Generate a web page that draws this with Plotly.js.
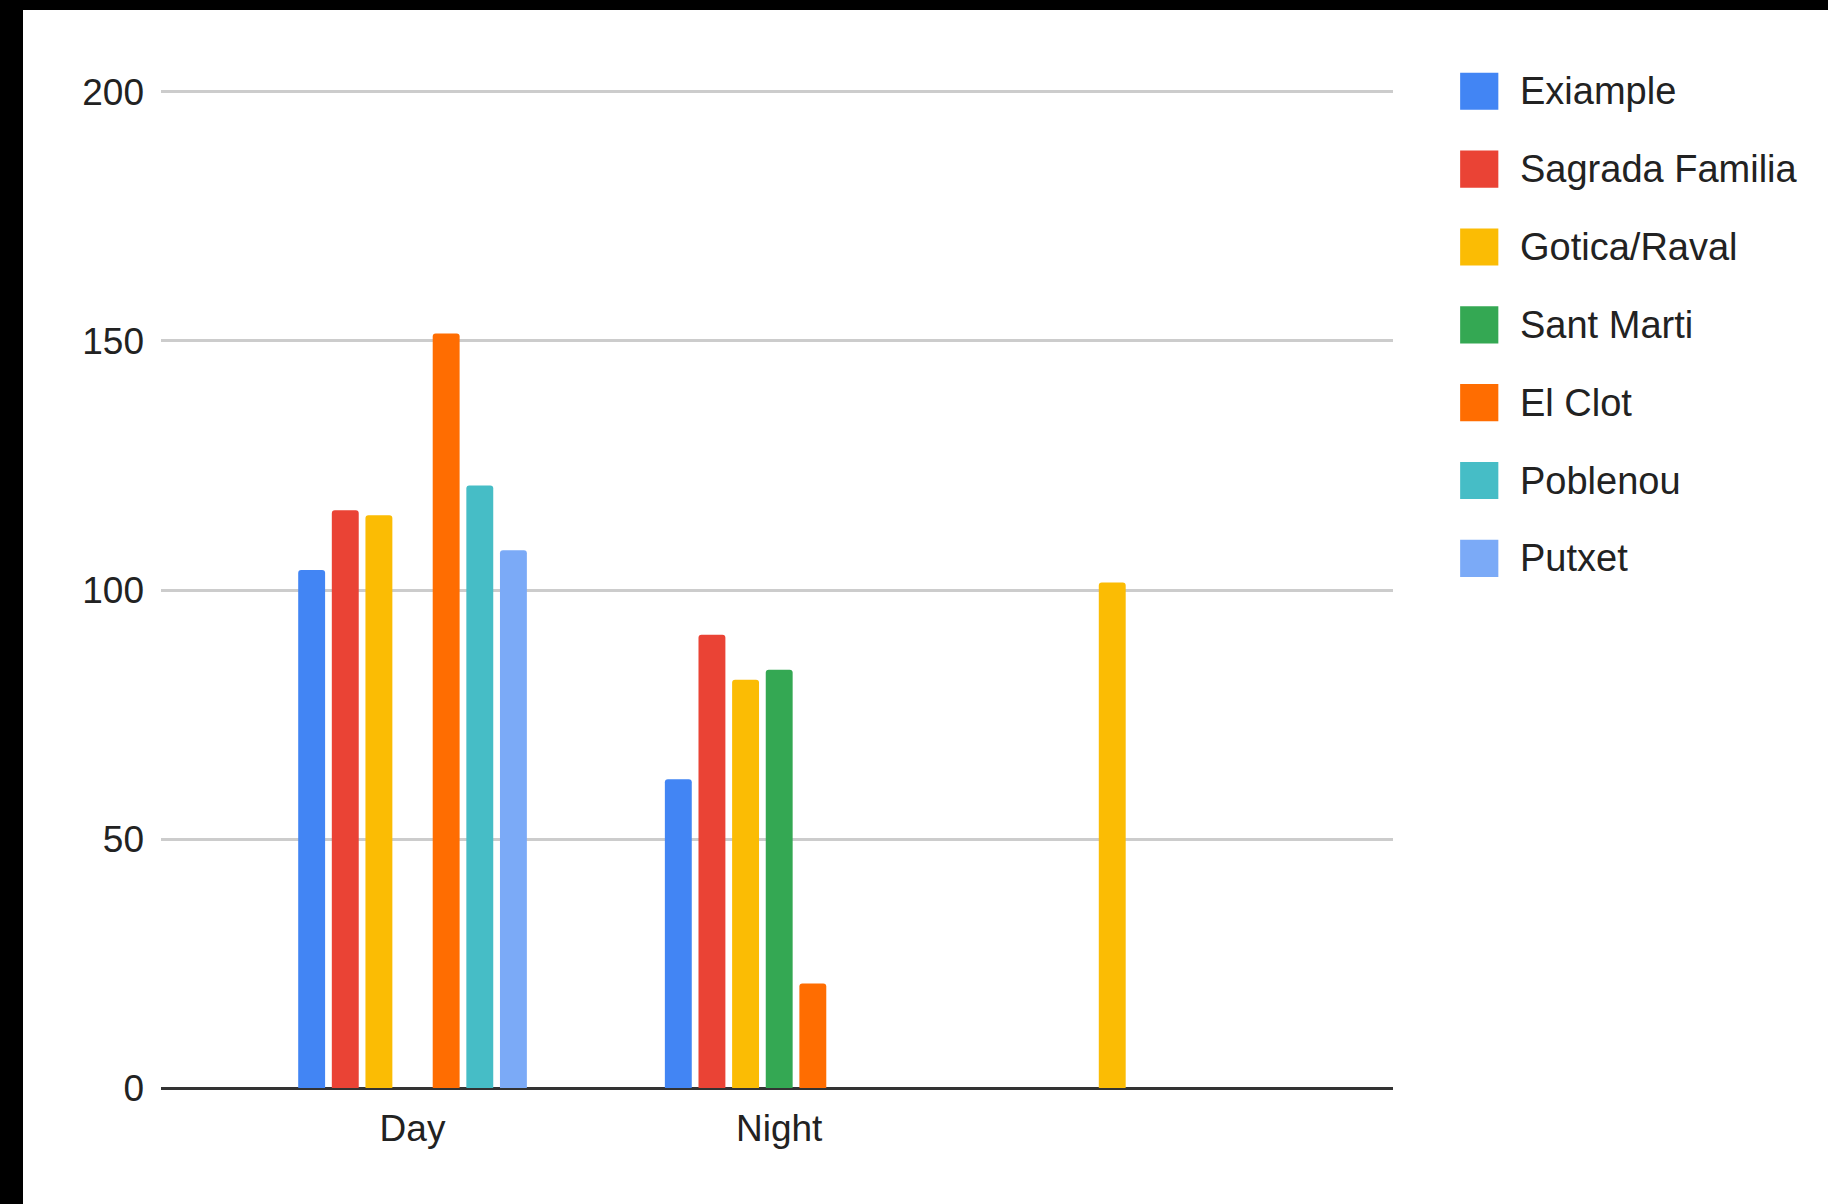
<!DOCTYPE html>
<html>
<head>
<meta charset="utf-8">
<script src="https://cdn.plot.ly/plotly-3.0.1.min.js"></script>
<style>
  html, body { margin: 0; padding: 0; background: #000; width: 1828px; height: 1204px; overflow: hidden; }
  #chart { position: absolute; left: 23px; top: 10px; width: 1805px; height: 1194px; background: #fff; }
</style>
</head>
<body>
<div id="chart"></div>
<script>
// ---- data ----
const categories = ["Day", "Night", ""];
const seriesNames = ["Exiample", "Sagrada Familia", "Gotica/Raval", "Sant Marti", "El Clot", "Poblenou", "Putxet"];
const exiample       = [104, 62, null];
const sagradaFamilia = [116, 91, null];
const goticaRaval    = [115, 82, 101.5];
const santMarti      = [null, 84, null];
const elClot         = [151.5, 21, null];
const poblenou       = [121, null, null];
const putxet         = [108, null, null];
const yTicks = [0, 50, 100, 150, 200];

// ---- styles ----
const colors = ["#4285F4", "#EA4335", "#FBBC04", "#34A853", "#FF6D01", "#46BDC6", "#7BAAF7"];
const seriesValues = [exiample, sagradaFamilia, goticaRaval, santMarti, elClot, poblenou, putxet];
const xIdx = categories.map((_, i) => i);
const FONT = '"Liberation Sans", Arial, sans-serif';

const traces = seriesNames.map((name, i) => ({
  type: "bar",
  name: name,
  x: xIdx,
  y: seriesValues[i],
  marker: { color: colors[i], line: { width: 0 } },
  hoverinfo: "x+y+name",
  showlegend: false
}));

// custom legend (large squares) drawn as shapes + annotations
const shapes = [];
const annotations = [];
const legTop = 0.9987, legStep = 0.0780, sq = 0.0372; // paper units
seriesNames.forEach((name, i) => {
  const yc = legTop - i * legStep;
  shapes.push({
    type: "rect", xref: "paper", yref: "paper",
    x0: 1.0545, x1: 1.0855, y0: yc - sq / 2, y1: yc + sq / 2,
    fillcolor: colors[i], line: { width: 0 }, layer: "above"
  });
  annotations.push({
    xref: "paper", yref: "paper", x: 1.1017, y: yc,
    xanchor: "left", yanchor: "middle", showarrow: false,
    text: name, font: { family: FONT, size: 38, color: "#222222" }
  });
});

const layout = {
  width: 1805, height: 1194,
  margin: { l: 138, r: 435, t: 80, b: 116, pad: 0 },
  paper_bgcolor: "#ffffff", plot_bgcolor: "#ffffff",
  barmode: "group", bargap: 0.358, bargroupgap: 0.2,
  barcornerradius: 3,
  showlegend: false,
  font: { family: FONT, size: 37, color: "#222222" },
  xaxis: {
    type: "linear",
    range: [-0.686, 2.674],
    tickvals: xIdx, ticktext: categories,
    showgrid: false, zeroline: false, showline: false,
    ticks: "", ticklabelstandoff: 15,
    tickfont: { family: FONT, size: 37, color: "#222222" },
    fixedrange: true
  },
  yaxis: {
    range: [0, 200.4],
    tickvals: yTicks,
    showgrid: true, gridcolor: "#cccccc", gridwidth: 3,
    zeroline: true, zerolinecolor: "#333333", zerolinewidth: 3,
    showline: false, ticks: "", ticklabelstandoff: 16,
    tickfont: { family: FONT, size: 37, color: "#222222" },
    fixedrange: true
  },
  shapes: shapes,
  annotations: annotations
};

Plotly.newPlot("chart", traces, layout, { displayModeBar: false, staticPlot: true });
</script>
</body>
</html>
